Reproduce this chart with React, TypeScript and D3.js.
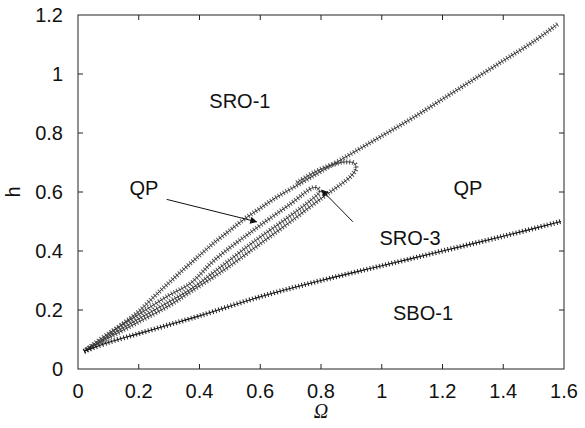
import React from "react";
import * as d3 from "d3";

// ---- data ----
const xTicks = [0, 0.2, 0.4, 0.6, 0.8, 1, 1.2, 1.4, 1.6];
const yTicks = [0, 0.2, 0.4, 0.6, 0.8, 1, 1.2];

// SBO-1 boundary ("+" markers)
const sboOmega = [0.02, 0.1, 0.2, 0.3, 0.4, 0.6, 0.8, 1.0, 1.2, 1.4, 1.59];
const sboH = [0.06, 0.09, 0.12, 0.15, 0.18, 0.245, 0.3, 0.35, 0.4, 0.45, 0.5];

// SRO-1 boundary (upper curve, "x" markers)
const sroOmega = [0.02, 0.06, 0.1, 0.15, 0.2, 0.25, 0.3, 0.35, 0.4, 0.45, 0.5, 0.55, 0.6, 0.65, 0.7, 0.75, 0.8, 0.9, 1.0, 1.1, 1.2, 1.3, 1.4, 1.5, 1.58];
const sroH = [0.06, 0.085, 0.115, 0.155, 0.195, 0.245, 0.293, 0.34, 0.385, 0.43, 0.47, 0.51, 0.545, 0.58, 0.61, 0.64, 0.67, 0.73, 0.79, 0.85, 0.915, 0.98, 1.045, 1.11, 1.17];

// outer QP loop
const loopAOmega = [0.02, 0.1, 0.2, 0.3, 0.37, 0.45, 0.5, 0.6, 0.7, 0.8, 0.86, 0.9, 0.915, 0.91, 0.88, 0.83, 0.78, 0.72];
const loopAH = [0.06, 0.105, 0.16, 0.215, 0.262, 0.315, 0.35, 0.425, 0.5, 0.578, 0.622, 0.655, 0.68, 0.697, 0.702, 0.69, 0.668, 0.632];

// inner SRO-3 loop
const loopBOmega = [0.02, 0.1, 0.2, 0.3, 0.37, 0.45, 0.577, 0.7, 0.77, 0.795, 0.79, 0.775, 0.7, 0.577, 0.45, 0.37, 0.3, 0.2, 0.1, 0.02];
const loopBH = [0.06, 0.11, 0.17, 0.228, 0.27, 0.33, 0.43, 0.52, 0.575, 0.6, 0.612, 0.615, 0.56, 0.47, 0.37, 0.29, 0.25, 0.185, 0.12, 0.06];

// region labels
const labelText = ["SRO-1", "QP", "QP", "SRO-3", "SBO-1"];
const labelOmega = [0.533, 0.217, 1.284, 1.093, 1.136];
const labelH = [0.885, 0.59, 0.59, 0.42, 0.166];

// annotation arrows (tail -> head)
const arrowTailOmega = [0.292, 0.905];
const arrowTailH = [0.575, 0.499];
const arrowHeadOmega = [0.588, 0.802];
const arrowHeadH = [0.499, 0.607];

const W = 585;
const H = 428;
const m = { left: 78, right: 21, top: 15, bottom: 59 };

export default function App() {
  const x = d3.scaleLinear().domain([0, 1.6]).range([m.left, W - m.right]);
  const y = d3.scaleLinear().domain([0, 1.2]).range([H - m.bottom, m.top]);
  const line = d3
    .line<[number, number]>()
    .x((d) => x(d[0]))
    .y((d) => y(d[1]))
    .curve(d3.curveCatmullRom.alpha(0.5));

  const zip = (a: number[], b: number[]) => a.map((v, i) => [v, b[i]] as [number, number]);
  const font = "'Liberation Sans', Arial, Helvetica, sans-serif";

  const xCurves = [zip(sroOmega, sroH), zip(loopAOmega, loopAH), zip(loopBOmega, loopBH)];
  const sbo = zip(sboOmega, sboH);

  return (
    <svg width={W} height={H} style={{ position: "absolute", left: 0, top: 0, background: "#fff" }}>
      <defs>
        <marker id="ah" viewBox="0 0 10 10" refX="9" refY="5" markerWidth="9" markerHeight="7" markerUnits="userSpaceOnUse" orient="auto">
          <path d="M0,0 L10,5 L0,10 z" fill="#111" />
        </marker>
      </defs>

      {/* x-marker curves */}
      {xCurves.map((c, i) => (
        <g key={"xc" + i}>
          <path d={line(c) || ""} fill="none" stroke="#555" strokeWidth={5} strokeDasharray="1 2" />
          <path d={line(c) || ""} fill="none" stroke="#333" strokeWidth={1} />
        </g>
      ))}

      {/* + marker curve */}
      <path d={line(sbo) || ""} fill="none" stroke="#222" strokeWidth={5} strokeDasharray="1 2.2" />
      <path d={line(sbo) || ""} fill="none" stroke="#111" strokeWidth={1.1} />

      {/* arrows */}
      {arrowTailOmega.map((o, i) => (
        <line
          key={"ar" + i}
          x1={x(o)}
          y1={y(arrowTailH[i])}
          x2={x(arrowHeadOmega[i])}
          y2={y(arrowHeadH[i])}
          stroke="#111"
          strokeWidth={1}
          markerEnd="url(#ah)"
        />
      ))}

      {/* labels */}
      {labelText.map((t, i) => (
        <text key={"lb" + i} x={x(labelOmega[i])} y={y(labelH[i])} textAnchor="middle" fontFamily={font} fontSize={20} fill="#111">
          {t}
        </text>
      ))}

      {/* frame */}
      <rect x={m.left} y={m.top} width={W - m.left - m.right} height={H - m.top - m.bottom} fill="none" stroke="#222" strokeWidth={1} />

      {/* x ticks */}
      {xTicks.map((t) => (
        <g key={"xt" + t}>
          {t > 0 && t < 1.6 && (
            <>
              <line x1={x(t)} x2={x(t)} y1={y(0)} y2={y(0) - 5} stroke="#222" />
              <line x1={x(t)} x2={x(t)} y1={y(1.2)} y2={y(1.2) + 5} stroke="#222" />
            </>
          )}
          <text x={x(t)} y={y(0) + 29} textAnchor="middle" fontFamily={font} fontSize={20} fill="#111">
            {d3.format("~g")(t)}
          </text>
        </g>
      ))}

      {/* y ticks */}
      {yTicks.map((t) => (
        <g key={"yt" + t}>
          {t > 0 && t < 1.2 && (
            <>
              <line x1={x(0)} x2={x(0) + 5} y1={y(t)} y2={y(t)} stroke="#222" />
              <line x1={x(1.6)} x2={x(1.6) - 5} y1={y(t)} y2={y(t)} stroke="#222" />
            </>
          )}
          <text x={63} y={y(t) + 7} textAnchor="end" fontFamily={font} fontSize={20} fill="#111">
            {d3.format("~g")(t)}
          </text>
        </g>
      ))}

      {/* axis titles */}
      <text x={x(0.8)} y={418} textAnchor="middle" fontFamily="'Liberation Serif', serif" fontStyle="italic" fontSize={20} fill="#111">
        Ω
      </text>
      <text
        transform={`translate(${20},${(y(0) + y(1.2)) / 2}) rotate(-90)`}
        textAnchor="middle"
        fontFamily={font}
        fontSize={20}
        fill="#111"
      >
        h
      </text>
    </svg>
  );
}
